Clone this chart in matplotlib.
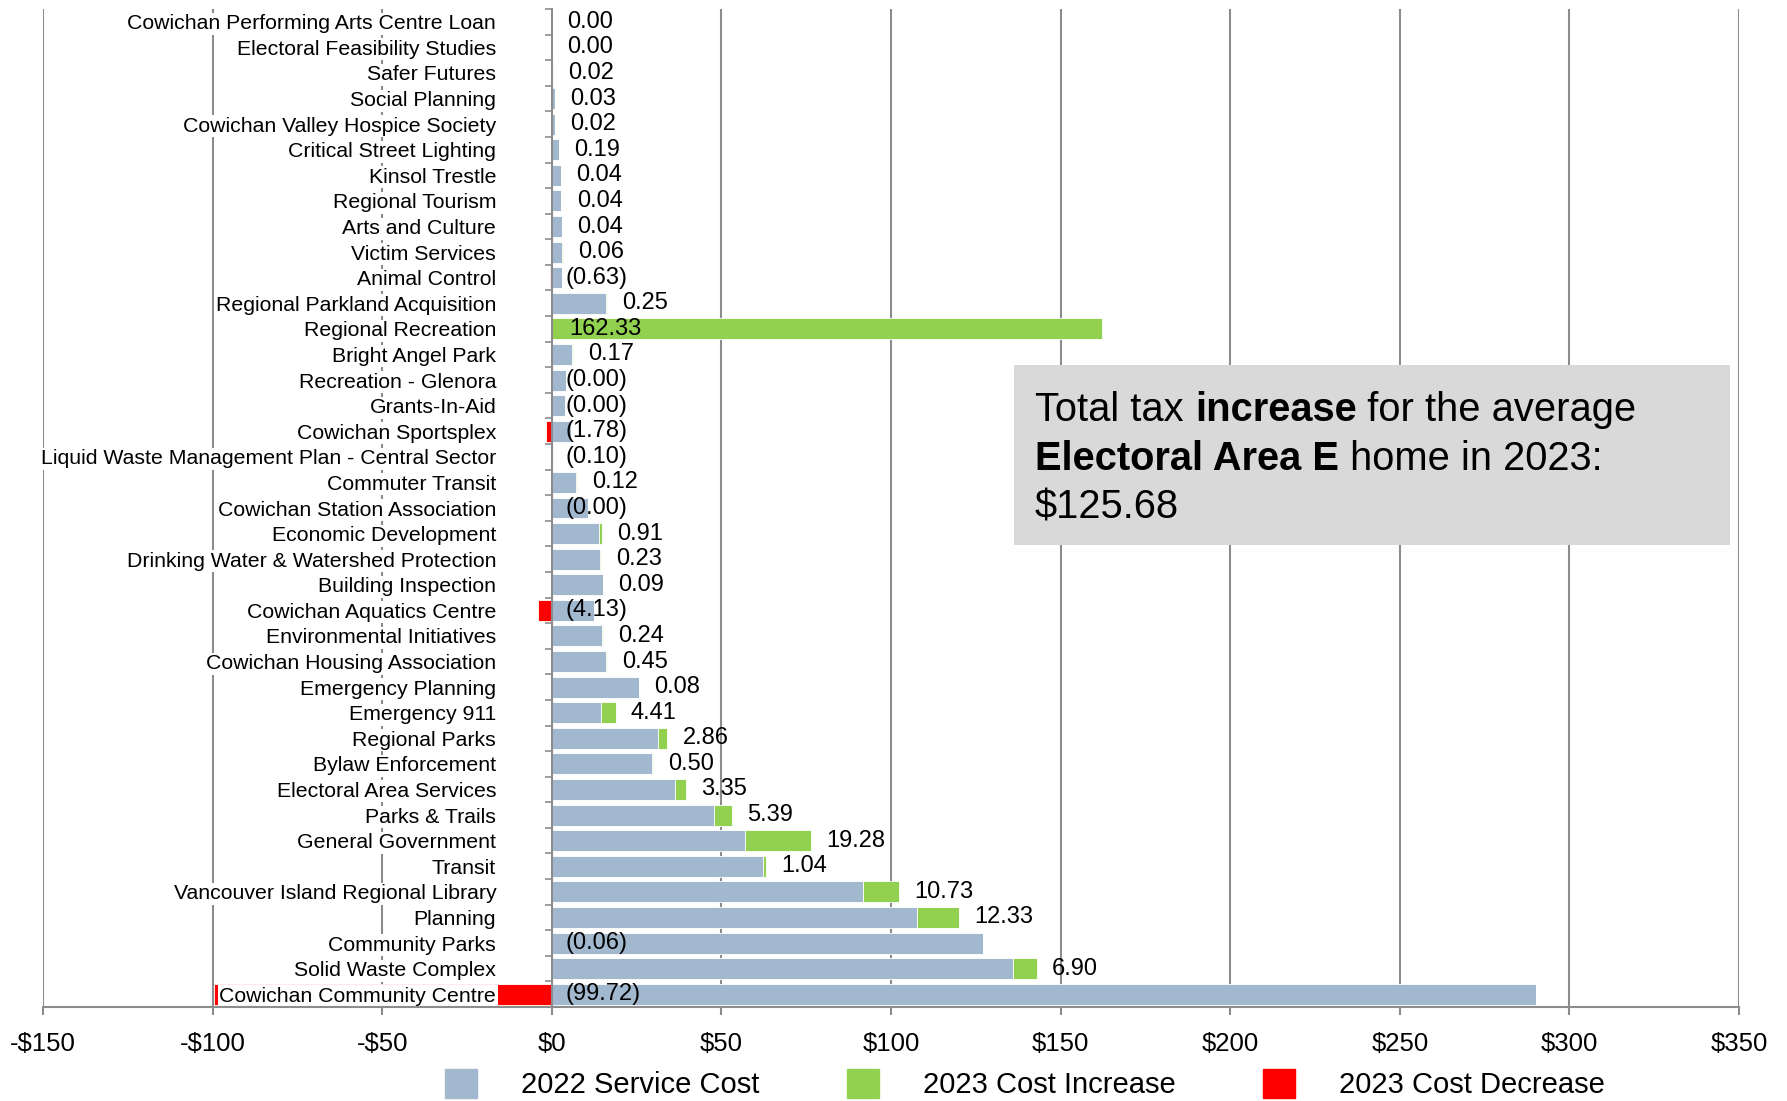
import numpy as np
import matplotlib.pyplot as plt
from matplotlib.patches import Patch, Rectangle
from matplotlib.text import Annotation

plt.rcParams['font.family'] = ['Liberation Sans', 'DejaVu Sans']

# services, top to bottom
services = [
    'Cowichan Performing Arts Centre Loan', 'Electoral Feasibility Studies',
    'Safer Futures', 'Social Planning', 'Cowichan Valley Hospice Society',
    'Critical Street Lighting', 'Kinsol Trestle', 'Regional Tourism',
    'Arts and Culture', 'Victim Services', 'Animal Control',
    'Regional Parkland Acquisition', 'Regional Recreation', 'Bright Angel Park',
    'Recreation - Glenora', 'Grants-In-Aid', 'Cowichan Sportsplex',
    'Liquid Waste Management Plan - Central Sector', 'Commuter Transit',
    'Cowichan Station Association', 'Economic Development',
    'Drinking Water & Watershed Protection', 'Building Inspection',
    'Cowichan Aquatics Centre', 'Environmental Initiatives',
    'Cowichan Housing Association', 'Emergency Planning', 'Emergency 911',
    'Regional Parks', 'Bylaw Enforcement', 'Electoral Area Services',
    'Parks & Trails', 'General Government', 'Transit',
    'Vancouver Island Regional Library', 'Planning', 'Community Parks',
    'Solid Waste Complex', 'Cowichan Community Centre',
]

# 2022 service cost ($)
cost_2022 = [
    0.0, 0.0, 0.3, 1.0, 1.0, 2.0, 2.6, 2.8, 3.0, 3.1, 3.0,
    16.0, 0.0, 6.0, 4.2, 4.0, 5.7, 0.3, 7.2, 10.8, 13.9,
    14.3, 15.0, 12.4, 14.9, 15.9, 25.6, 14.4, 31.2, 29.4, 36.3,
    47.8, 57.1, 62.2, 91.7, 107.6, 127.0, 136.0, 290.2,
]

# 2023 change ($)
change_2023 = [
    0.00, 0.00, 0.02, 0.03, 0.02, 0.19, 0.04, 0.04, 0.04, 0.06, -0.63,
    0.25, 162.33, 0.17, -0.001, -0.001, -1.78, -0.10, 0.12, -0.001, 0.91,
    0.23, 0.09, -4.13, 0.24, 0.45, 0.08, 4.41, 2.86, 0.50, 3.35,
    5.39, 19.28, 1.04, 10.73, 12.33, -0.06, 6.90, -99.72,
]

total_increase = 125.68

blue = '#A2B8CF'
green = '#92D050'
red = '#FF0000'
grid_c = '#8C8C8C'

cost = np.array(cost_2022)
chg = np.array(change_2023)
inc = np.where(chg > 0, chg, 0)
dec = np.where(chg < 0, chg, 0)
y = np.arange(len(services))

fig = plt.figure(figsize=(17.87, 11.01), dpi=100)
ax = fig.add_axes([43 / 1787, 1 - 1007 / 1101, 1696 / 1787, 998 / 1101])

ax.barh(y, cost, height=0.82, color=blue, edgecolor='white', linewidth=0.6)
ax.barh(y, inc, left=cost, height=0.82, color=green, edgecolor='white', linewidth=0.6)
ax.barh(y, dec, height=0.82, color=red, edgecolor='white', linewidth=0.6)

for gx in range(-150, 351, 50):
    if gx != 0:
        ax.axvline(gx, color=grid_c, lw=1.5, zorder=0.5)

# value labels
for i in range(len(services)):
    c = chg[i]
    txt = f'{c:.2f}' if c >= 0 else f'({abs(c):.2f})'
    if c < 0:
        x = 4
    elif inc[i] > 50:
        x = 5
    else:
        x = cost[i] + inc[i] + 4.5
    ax.text(x, y[i], txt, fontsize=17, va='center', ha='left', zorder=3)

ax.set_xlim(-150, 350)
ax.set_ylim(len(services) - 0.5, -0.5)

ax.set_xticks(range(-150, 351, 50))
ax.set_xticklabels([f'-${-v}' if v < 0 else f'${v}' for v in range(-150, 351, 50)],
                   fontsize=18.5)
ax.tick_params(axis='x', length=6, width=1.5, color=grid_c, pad=12)

ax.spines['left'].set_position(('data', 0))
for s in ['top', 'right']:
    ax.spines[s].set_visible(False)
for s in ['left', 'bottom']:
    ax.spines[s].set_color(grid_c)
    ax.spines[s].set_linewidth(1.5)

ax.set_yticks(y)
ax.set_yticklabels(services, fontsize=15.3)
ax.set_yticks(np.arange(-0.5, len(services)), minor=True)
ax.tick_params(axis='y', which='major', length=0, pad=40)
ax.tick_params(axis='y', which='minor', length=5, width=1.2, color=grid_c)
for lbl in ax.get_yticklabels():
    lbl.set_bbox(dict(facecolor='white', edgecolor='none', pad=1))

# summary box
fig.patches.append(Rectangle((1014 / 1787, 1 - 545 / 1101), 716 / 1787, 180 / 1101,
                             transform=fig.transFigure, facecolor='#D9D9D9',
                             edgecolor='none', zorder=5))

lines = [
    [('Total tax ', 'normal'), ('increase', 'bold'), (' for the average', 'normal')],
    [('Electoral Area E', 'bold'), (' home in 2023:', 'normal')],
    [(f'${total_increase:.2f}', 'normal')],
]
for k, parts in enumerate(lines):
    yb = 1 - (421 + 48.5 * k) / 1101
    prev = fig.text(1035 / 1787, yb, parts[0][0], fontsize=28.7,
                    fontweight=parts[0][1], va='baseline', zorder=6)
    for s, w in parts[1:]:
        ann = Annotation(s, xy=(1, 0), xycoords=prev, fontsize=28.7,
                         fontweight=w, va='bottom', ha='left',
                         annotation_clip=False, zorder=6)
        prev = fig.add_artist(ann)

handles = [Patch(color=blue, label='2022 Service Cost'),
           Patch(color=green, label='2023 Cost Increase'),
           Patch(color=red, label='2023 Cost Decrease')]
fig.legend(handles=handles, loc='center', bbox_to_anchor=(0.5736, 1 - 1084 / 1101),
           ncol=3, frameon=False, fontsize=21, handlelength=1.1, handleheight=1.15,
           handletextpad=1.5, columnspacing=3.0)

fig.savefig('out.png', dpi=100)
